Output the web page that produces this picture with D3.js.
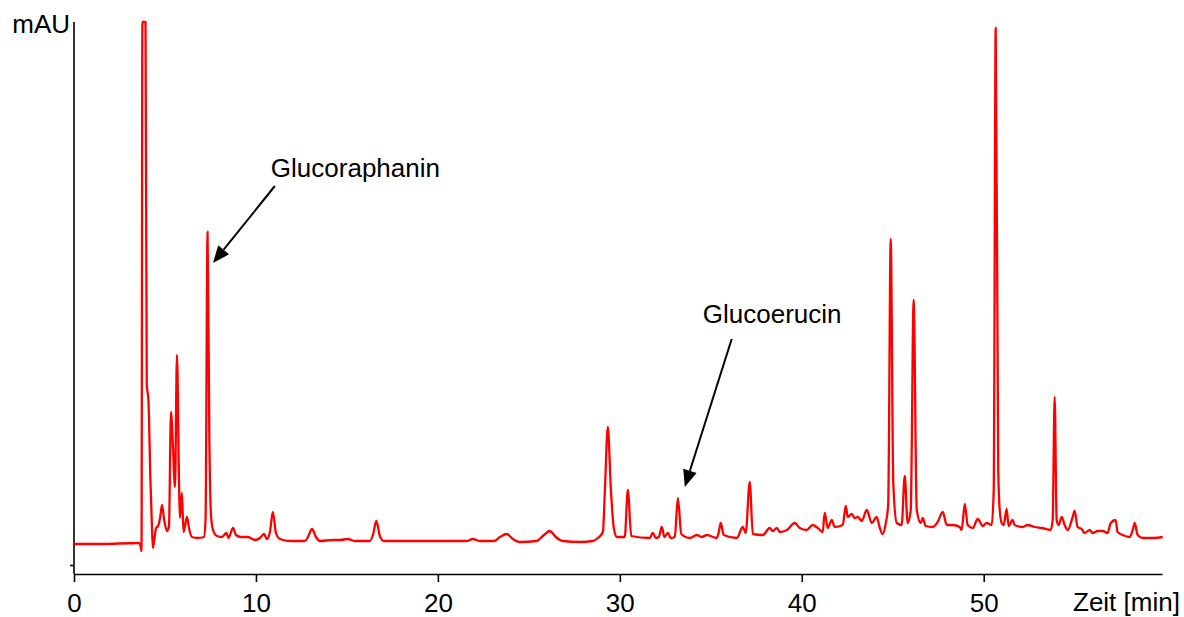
<!DOCTYPE html>
<html>
<head>
<meta charset="utf-8">
<script src="https://cdn.jsdelivr.net/npm/d3@7"></script>
<style>
  html, body { margin: 0; padding: 0; background: #fff; }
  svg { display: block; font-family: "Liberation Sans", Arial, sans-serif; }
</style>
</head>
<body>
<div id="chart"></div>
<script>
// Retention time (min) and absorbance (mAU, arbitrary scale)
const times = [
  0, 1.43, 3.52, 3.63, 3.71, 3.76, 3.93, 4.00, 4.09, 4.20, 4.29, 4.34, 4.51, 4.62, 4.73, 4.84, 4.95, 5.11, 5.22, 5.33,
  5.44, 5.55, 5.66, 5.77, 5.82, 5.93, 6.02, 6.21, 6.32, 6.48, 6.81, 7.14, 7.23, 7.34, 7.44, 7.53, 7.64, 7.86, 8.13, 8.38,
  8.49, 8.74, 8.90, 9.18, 9.56, 9.95, 10.22, 10.44, 10.60, 10.77, 10.93, 11.10, 11.32, 11.87, 12.69, 12.86, 13.08, 13.30, 13.52, 14.23,
  14.62, 15.05, 15.44, 16.26, 16.43, 16.62, 16.81, 17.03, 17.91, 20.11, 21.59, 21.92, 22.31, 23.08, 23.41, 23.79, 24.12, 24.51, 25.44, 25.77,
  26.15, 26.48, 26.87, 27.80, 28.52, 28.79, 29.07, 29.18, 29.34, 29.51, 29.67, 29.84, 30.27, 30.44, 30.63, 31.65, 31.81, 31.98, 32.14, 32.31,
  32.45, 32.64, 32.80, 33.02, 33.19, 33.38, 33.85, 34.23, 34.51, 34.78, 35.33, 35.44, 35.55, 35.71, 36.43, 36.76, 36.92, 37.14, 37.31, 37.86,
  38.24, 38.41, 38.63, 38.79, 39.18, 39.62, 39.89, 40.27, 40.60, 40.88, 41.15, 41.26, 41.43, 41.65, 41.81, 42.25, 42.42, 42.53, 42.75, 42.91,
  43.08, 43.30, 43.57, 43.85, 44.12, 44.29, 44.45, 44.62, 44.75, 44.89, 45.03, 45.22, 45.49, 45.66, 45.82, 45.99, 46.15, 46.32, 46.54, 46.65,
  46.81, 47.20, 47.47, 47.75, 47.97, 48.30, 48.68, 48.79, 48.96, 49.12, 49.40, 49.67, 49.95, 50.16, 50.44, 50.55, 50.66, 50.80, 50.88, 50.99,
  51.10, 51.26, 51.37, 51.59, 51.70, 52.14, 52.42, 52.80, 53.19, 53.68, 53.79, 53.90, 54.01, 54.12, 54.29, 54.45, 54.62, 54.89, 55.00, 55.16,
  55.38, 55.55, 55.82, 55.99, 56.26, 56.54, 56.81, 56.98, 57.25, 57.36, 57.64, 58.02, 58.19, 58.30, 58.46, 58.74, 59.29, 59.84
];
const signal = [
  25, 25, 26, 25, 18, 547, 547, 184, 169, 89, 39, 21, 41, 43, 51, 64, 50, 38, 43, 157,
  122, 82, 214, 89, 51, 76, 37, 52, 41, 32, 31, 32, 49, 337, 129, 54, 39, 33, 32, 36,
  31, 41, 34, 32, 32, 29, 31, 35, 30, 37, 57, 36, 30, 28, 28, 32, 40, 32, 28, 29,
  29, 30, 28, 28, 34, 48, 33, 28, 28, 28, 28, 30, 28, 28, 32, 35, 30, 27, 28, 33,
  38, 32, 28, 27, 28, 31, 37, 79, 142, 79, 41, 32, 32, 79, 33, 31, 36, 31, 32, 42,
  32, 36, 31, 32, 71, 35, 31, 34, 32, 34, 31, 37, 46, 34, 31, 42, 36, 87, 35, 34,
  41, 38, 41, 37, 39, 46, 41, 39, 44, 41, 37, 56, 41, 49, 42, 44, 63, 52, 55, 51,
  52, 48, 59, 46, 52, 41, 35, 46, 64, 330, 86, 46, 44, 93, 46, 59, 269, 59, 46, 51,
  43, 42, 47, 57, 44, 44, 42, 39, 65, 44, 41, 50, 43, 46, 44, 79, 541, 99, 59, 46,
  44, 60, 43, 49, 44, 42, 44, 42, 41, 39, 49, 172, 49, 44, 52, 44, 39, 52, 58, 42,
  40, 36, 39, 36, 38, 38, 36, 46, 49, 37, 34, 32, 39, 46, 34, 31, 31, 32
];

const xTicks = [0, 10, 20, 30, 40, 50];
const yTicks = [4];

// Peak labels: text anchor (t, v), arrow from (t, v) to tip (t, v)
const labels = ["Glucoraphanin", "Glucoerucin"];
const labelPos = [[10.82, 392], [34.56, 246]];
const arrowFrom = [[11.04, 383], [36.15, 230]];
const arrowTo = [[7.64, 306], [33.57, 82]];

const W = 1184, H = 617;
const svg = d3.select("#chart").append("svg")
    .attr("width", W)
    .attr("height", H);

svg.append("rect").attr("width", W).attr("height", H).attr("fill", "#fff");

const x = d3.scaleLinear().domain([0, 59.8]).range([74, 1162]);
const y = d3.scaleLinear().domain([0, 547]).range([569, 22]);
const axisY = 574;

// x axis
const xAxis = svg.append("g")
    .attr("transform", `translate(0,${axisY})`)
    .call(d3.axisBottom(x).tickValues(xTicks).tickSize(8).tickPadding(12).tickSizeOuter(0));
xAxis.select(".domain").attr("stroke", "#000").attr("stroke-width", 1.6);
xAxis.selectAll(".tick line").attr("stroke", "#000").attr("stroke-width", 1.6);
xAxis.selectAll(".tick text")
    .attr("font-size", 26)
    .attr("font-family", "Liberation Sans, Arial, sans-serif")
    .attr("fill", "#000");

// y axis: plain line with a single short tick
const yAxis = svg.append("g")
    .attr("transform", `translate(74,0)`)
    .call(d3.axisLeft(y).tickValues(yTicks).tickSize(4).tickFormat(""));
yAxis.select(".domain").remove();
yAxis.selectAll(".tick line").attr("stroke", "#000").attr("stroke-width", 1.6);
svg.append("line")
    .attr("x1", 74).attr("x2", 74)
    .attr("y1", y(547)).attr("y2", axisY)
    .attr("stroke", "#000").attr("stroke-width", 1.6);

svg.append("text")
    .attr("x", 70).attr("y", 33)
    .attr("text-anchor", "end")
    .attr("font-size", 26)
    .text("mAU");

svg.append("text")
    .attr("x", 1073).attr("y", 611)
    .attr("font-size", 26)
    .text("Zeit [min]");

// trace
const pts = times.map((t, i) => [t, signal[i]]);
const line = d3.line().x(d => x(d[0])).y(d => y(d[1])).curve(d3.curveMonotoneX);
svg.append("path")
    .datum(pts)
    .attr("d", line)
    .attr("fill", "none")
    .attr("stroke", "#ff0000")
    .attr("stroke-width", 2.3)
    .attr("stroke-linejoin", "round");

// annotations
labels.forEach((lab, i) => {
    svg.append("text")
        .attr("x", x(labelPos[i][0]))
        .attr("y", y(labelPos[i][1]))
        .attr("font-size", 26)
        .text(lab);

    const x0 = x(arrowFrom[i][0]), y0 = y(arrowFrom[i][1]);
    const x1 = x(arrowTo[i][0]), y1 = y(arrowTo[i][1]);
    const ang = Math.atan2(y1 - y0, x1 - x0);
    const len = 17, half = 7;
    const bx = x1 - len * Math.cos(ang), by = y1 - len * Math.sin(ang);

    svg.append("line")
        .attr("x1", x0).attr("y1", y0)
        .attr("x2", bx).attr("y2", by)
        .attr("stroke", "#000").attr("stroke-width", 2);

    svg.append("path")
        .attr("d", `M${x1},${y1}L${bx + half * Math.sin(ang)},${by - half * Math.cos(ang)}L${bx - half * Math.sin(ang)},${by + half * Math.cos(ang)}Z`)
        .attr("fill", "#000");
});
</script>
</body>
</html>
